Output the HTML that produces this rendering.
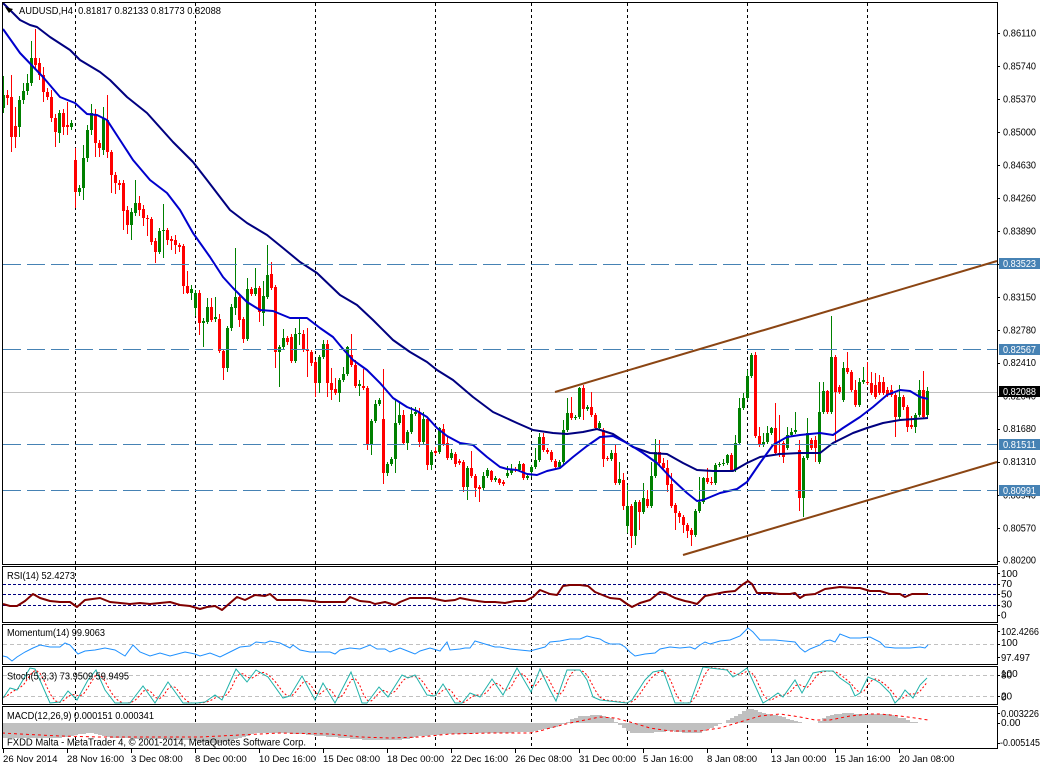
<!DOCTYPE html>
<html><head><meta charset="utf-8">
<style>
html,body{margin:0;padding:0;background:#fff;}
svg{display:block;font-family:"Liberation Sans",sans-serif;}
text{font-size:10px;fill:#000;}
</style></head><body>
<svg id="s" width="1040" height="767" viewBox="0 0 1040 767" xmlns="http://www.w3.org/2000/svg">
<rect width="1040" height="767" fill="#fff"/>
<!-- vertical grid -->
<path d="M75.5 3V564M195.5 3V564M315.5 3V564M435.5 3V564M531.5 3V564M627.5 3V564M747.5 3V564M867.5 3V564
M75.5 567V622M195.5 567V622M315.5 567V622M435.5 567V622M531.5 567V622M627.5 567V622M747.5 567V622M867.5 567V622
M75.5 625V664M195.5 625V664M315.5 625V664M435.5 625V664M531.5 625V664M627.5 625V664M747.5 625V664M867.5 625V664
M75.5 667V704M195.5 667V704M315.5 667V704M435.5 667V704M531.5 667V704M627.5 667V704M747.5 667V704M867.5 667V704
M75.5 707V748M195.5 707V748M315.5 707V748M435.5 707V748M531.5 707V748M627.5 707V748M747.5 707V748M867.5 707V748" stroke="#000" stroke-width="1" stroke-dasharray="3 3" fill="none"/>
<!-- current price line -->
<line x1="3" y1="392.5" x2="997" y2="392.5" stroke="#C0C0C0" stroke-width="1"/>
<g id="candles"></g>
<g id="mas"></g>
<!-- horizontal lines -->
<path d="M3 264.5H997M3 349.5H997M3 444.5H997M3 490.5H997" stroke="#4682B4" stroke-width="1" stroke-dasharray="18 6" fill="none"/>
<!-- trend lines -->
<line x1="555" y1="392" x2="997" y2="261" stroke="#8B4513" stroke-width="2"/>
<line x1="683" y1="555" x2="997" y2="462" stroke="#8B4513" stroke-width="2"/>
<!-- indicator levels -->
<path d="M3 584.5H997M3 594.5H997M3 605.5H997" stroke="#000080" stroke-width="1" stroke-dasharray="3 2" fill="none"/>
<path d="M3 644.5H997M3 675.5H997M3 696.5H997" stroke="#C0C0C0" stroke-width="1" stroke-dasharray="4 3" fill="none"/>
<g id="ind"></g>
<!-- title & labels -->
<path d="M5 7L13 9L9 13Z" fill="#000"/>
<text x="19" y="14" textLength="202" lengthAdjust="spacingAndGlyphs">AUDUSD,H4&#160; 0.81817 0.82133 0.81773 0.82088</text>
<text x="7" y="579" textLength="68" lengthAdjust="spacingAndGlyphs">RSI(14) 52.4273</text>
<text x="7" y="636" textLength="98" lengthAdjust="spacingAndGlyphs">Momentum(14) 99.9063</text>
<text x="7" y="679.5" textLength="122" lengthAdjust="spacingAndGlyphs">Stoch(5,3,3) 73.9509 59.9495</text>
<text x="7" y="719" textLength="147" lengthAdjust="spacingAndGlyphs">MACD(12,26,9) 0.000151 0.000341</text>
<text x="7" y="745.5" textLength="299" lengthAdjust="spacingAndGlyphs">FXDD Malta - MetaTrader 4, © 2001-2014, MetaQuotes Software Corp.</text>
<!-- frames -->
<g fill="none" stroke="#000" stroke-width="1">
<rect x="2.5" y="2.5" width="995" height="562"/>
<rect x="2.5" y="566.5" width="995" height="56"/>
<rect x="2.5" y="624.5" width="995" height="40"/>
<rect x="2.5" y="666.5" width="995" height="38"/>
<rect x="2.5" y="706.5" width="995" height="42"/>
</g>
<!-- price axis ticks -->
<path d="M997 33.5h3M997 66.5h3M997 99.5h3M997 132.5h3M997 165.5h3M997 198.5h3M997 231.5h3M997 264.5h3M997 297.5h3M997 330.5h3M997 363.5h3M997 396.5h3M997 429.5h3M997 462.5h3M997 495.5h3M997 528.5h3M997 561.5h3
M997 573.5h3M997 584.5h3M997 594.5h3M997 605.5h3M997 615.5h3M997 631.5h3M997 644.5h3M997 657.5h3M997 675.5h3M997 696.5h3M997 713.5h3M997 723.5h3M997 743.5h3" stroke="#000" stroke-width="1"/>
<g>
<text x="1003" y="36.5" textLength="33" lengthAdjust="spacingAndGlyphs">0.86110</text>
<text x="1003" y="69.5" textLength="33" lengthAdjust="spacingAndGlyphs">0.85740</text>
<text x="1003" y="102.5" textLength="33" lengthAdjust="spacingAndGlyphs">0.85370</text>
<text x="1003" y="135.5" textLength="33" lengthAdjust="spacingAndGlyphs">0.85000</text>
<text x="1003" y="168.5" textLength="33" lengthAdjust="spacingAndGlyphs">0.84630</text>
<text x="1003" y="201.5" textLength="33" lengthAdjust="spacingAndGlyphs">0.84260</text>
<text x="1003" y="234.5" textLength="33" lengthAdjust="spacingAndGlyphs">0.83890</text>
<text x="1003" y="267.5" textLength="33" lengthAdjust="spacingAndGlyphs">0.83520</text>
<text x="1003" y="300.5" textLength="33" lengthAdjust="spacingAndGlyphs">0.83150</text>
<text x="1003" y="333.5" textLength="33" lengthAdjust="spacingAndGlyphs">0.82780</text>
<text x="1003" y="366" textLength="33" lengthAdjust="spacingAndGlyphs">0.82410</text>
<text x="1003" y="399.5" textLength="33" lengthAdjust="spacingAndGlyphs">0.82040</text>
<text x="1003" y="432" textLength="33" lengthAdjust="spacingAndGlyphs">0.81680</text>
<text x="1003" y="465" textLength="33" lengthAdjust="spacingAndGlyphs">0.81310</text>
<text x="1003" y="498.5" textLength="33" lengthAdjust="spacingAndGlyphs">0.80940</text>
<text x="1003" y="531.5" textLength="33" lengthAdjust="spacingAndGlyphs">0.80570</text>
<text x="1003" y="563.5" textLength="33" lengthAdjust="spacingAndGlyphs">0.80200</text>
</g>
<!-- highlighted price boxes -->
<rect x="999" y="258" width="41" height="11" fill="#4682B4"/>
<text x="1003" y="267" textLength="33" lengthAdjust="spacingAndGlyphs" style="fill:#fff">0.83523</text>
<rect x="999" y="344" width="41" height="11" fill="#4682B4"/>
<text x="1003" y="353" textLength="33" lengthAdjust="spacingAndGlyphs" style="fill:#fff">0.82567</text>
<rect x="999" y="386" width="41" height="11" fill="#000"/>
<text x="1003" y="395" textLength="33" lengthAdjust="spacingAndGlyphs" style="fill:#fff">0.82088</text>
<rect x="999" y="439" width="41" height="11" fill="#4682B4"/>
<text x="1003" y="448" textLength="33" lengthAdjust="spacingAndGlyphs" style="fill:#fff">0.81511</text>
<rect x="999" y="485" width="41" height="11" fill="#4682B4"/>
<text x="1003" y="494" textLength="33" lengthAdjust="spacingAndGlyphs" style="fill:#fff">0.80991</text>
<!-- indicator axis labels -->
<g>
<text x="1001" y="577">100</text>
<text x="1001" y="587">70</text>
<text x="1001" y="597.5">50</text>
<text x="1001" y="607.5">30</text>
<text x="1001" y="618.5">0</text>
<text x="1001" y="635" textLength="38" lengthAdjust="spacingAndGlyphs">102.4266</text>
<text x="1001" y="646">100</text>
<text x="1001" y="661" textLength="29" lengthAdjust="spacingAndGlyphs">97.497</text>
<text x="1001" y="677">100</text>
<text x="1001" y="678.5">80</text>
<text x="1001" y="699.5">20</text>
<text x="1001" y="700.5">0</text>
<text x="1001" y="717" textLength="38" lengthAdjust="spacingAndGlyphs">0.003226</text>
<text x="1001" y="726">0.00</text>
<text x="1000" y="746" textLength="40" lengthAdjust="spacingAndGlyphs">-0.005145</text>
</g>
<!-- time axis -->
<path d="M3.5 749V753M67.5 749V753M131.5 749V753M195.5 749V753M259.5 749V753M323.5 749V753M387.5 749V753M451.5 749V753M515.5 749V753M579.5 749V753M643.5 749V753M707.5 749V753M771.5 749V753M835.5 749V753M899.5 749V753" stroke="#000" stroke-width="1"/>
<g style="font-size:9.6px">
<text x="3" y="762" style="font-size:9.6px">26 Nov 2014</text>
<text x="67" y="762" style="font-size:9.6px">28 Nov 16:00</text>
<text x="131" y="762" style="font-size:9.6px">3 Dec 08:00</text>
<text x="195" y="762" style="font-size:9.6px">8 Dec 00:00</text>
<text x="259" y="762" style="font-size:9.6px">10 Dec 16:00</text>
<text x="323" y="762" style="font-size:9.6px">15 Dec 08:00</text>
<text x="387" y="762" style="font-size:9.6px">18 Dec 00:00</text>
<text x="451" y="762" style="font-size:9.6px">22 Dec 16:00</text>
<text x="515" y="762" style="font-size:9.6px">26 Dec 08:00</text>
<text x="579" y="762" style="font-size:9.6px">31 Dec 00:00</text>
<text x="643" y="762" style="font-size:9.6px">5 Jan 16:00</text>
<text x="707" y="762" style="font-size:9.6px">8 Jan 08:00</text>
<text x="771" y="762" style="font-size:9.6px">13 Jan 00:00</text>
<text x="835" y="762" style="font-size:9.6px">15 Jan 16:00</text>
<text x="899" y="762" style="font-size:9.6px">20 Jan 08:00</text>
</g>
</svg>
<script>
(function(){
var NS="http://www.w3.org/2000/svg";
function el(t,a,p){var e=document.createElementNS(NS,t);for(var k in a)e.setAttribute(k,a[k]);p.appendChild(e);return e;}
function pts(a){return a.map(function(p){return p[0]+','+p[1];}).join(' ');}
function itp(a,x){if(x<=a[0][0])return a[0][1];for(var i=1;i<a.length;i++){if(x<=a[i][0]){var t=(x-a[i-1][0])/(a[i][0]-a[i-1][0]);return a[i-1][1]+t*(a[i][1]-a[i-1][1]);}}return a[a.length-1][1];}
var D=[[108,95,76,113],[95,98,90,105],[97,137,75,152],[126,137,107,148],[127,100,96,137],[100,91,83,104],[91,83,74,95],[83,58,41,86],[58,65,29,70],[63,75,58,80],
[75,92,67,102],[92,97,88,100],[97,118,90,122],[118,132,114,147],[133,113,110,143],[113,127,109,135],[125,127,102,135],[127,123,120,130],[160,192,148,208],[192,188,185,196],
[188,158,145,200],[158,130,125,162],[130,113,104,135],[115,143,109,157],[143,148,140,157],[150,118,107,155],[120,152,95,158],[152,175,150,193],[175,183,172,194],[183,185,180,190],
[183,211,180,230],[210,225,206,234],[225,212,208,240],[213,203,180,216],[203,210,196,216],[209,218,205,226],[218,219,215,236],[219,242,217,245],[241,252,238,263],[252,231,228,254],
[231,230,204,258],[230,240,228,245],[239,241,236,250],[240,245,235,254],[245,247,243,252],[246,286,244,294],[286,293,271,294],[293,289,285,300],[308,293,290,316],[293,323,290,335],
[323,321,318,347],[322,307,298,324],[307,320,298,322],[319,317,297,322],[319,351,314,353],[351,368,349,380],[368,328,326,372],[328,307,304,331],[308,297,248,315],[297,320,295,327],
[319,339,317,343],[339,289,278,341],[289,294,287,296],[294,288,268,296],[288,312,286,322],[313,296,281,326],[297,275,245,299],[274,288,262,290],[287,352,285,368],[352,347,345,387],
[347,338,329,349],[338,342,336,345],[337,361,334,363],[361,334,328,363],[334,333,318,345],[334,350,330,352],[349,351,328,377],[352,363,350,366],[362,383,360,397],[383,357,355,393],
[357,344,340,359],[344,383,340,397],[383,390,368,400],[389,393,378,395],[393,380,378,402],[380,374,367,382],[374,347,346,376],[355,365,334,367],[365,386,360,388],[386,384,380,396],
[386,388,369,390],[388,444,386,450],[444,421,419,455],[421,404,400,423],[404,400,398,406],[419,473,369,484],[473,464,462,476],[464,459,457,466],[459,423,400,473],[423,415,403,425],
[415,443,410,445],[443,432,430,450],[432,414,407,434],[414,412,407,416],[413,442,408,447],[442,419,412,444],[419,465,417,470],[465,452,450,470],[451,453,447,455],[452,428,427,454],
[429,444,424,446],[443,458,437,460],[458,453,449,460],[454,464,452,467],[461,463,459,465],[462,487,460,492],[487,468,466,500],[468,476,451,478],[476,488,474,497],[487,489,485,502],
[488,476,472,490],[476,470,468,478],[471,480,470,482],[480,478,476,482],[479,483,478,485],[482,484,480,486],[476,473,466,478],[473,469,464,475],[469,470,467,472],[470,464,461,472],
[464,478,463,480],[478,476,474,480],[472,467,465,477],[467,460,448,469],[460,437,433,462],[437,450,433,452],[450,452,448,454],[452,460,450,462],[461,467,459,469],[467,462,460,469],
[462,430,420,464],[430,413,398,432],[413,418,397,420],[418,417,415,420],[417,388,387,419],[388,409,385,420],[409,407,405,411],[407,415,392,417],[415,428,413,430],[428,423,421,430],
[430,459,428,467],[458,459,456,461],[459,453,450,461],[453,483,444,485],[483,479,462,485],[480,506,473,510],[526,506,485,533],[506,536,504,548],[536,502,500,545],[502,512,500,530],
[512,498,483,514],[499,506,490,508],[506,476,462,508],[476,452,439,478],[452,463,440,465],[463,468,458,470],[468,485,460,492],[484,506,473,508],[505,513,503,530],[513,517,511,523],
[517,525,515,533],[525,531,523,538],[530,535,528,546],[535,511,509,537],[511,502,477,513],[502,478,477,504],[478,482,468,484],[482,483,477,485],[483,465,463,485],[465,464,462,467],
[464,463,459,466],[463,455,454,465],[455,470,453,472],[470,443,435,472],[443,408,398,445],[408,398,393,410],[398,376,370,400],[376,355,353,378],[355,436,352,438],[436,445,427,447],
[445,442,433,447],[442,433,426,444],[433,428,427,435],[428,453,403,455],[453,455,415,457],[443,457,441,463],[448,435,427,450],[435,432,428,437],[432,430,412,434],[450,498,440,511],
[498,458,456,517],[458,433,418,460],[440,448,438,450],[440,448,436,462],[462,412,382,464],[412,391,382,414],[391,412,390,414],[412,357,316,414],[357,392,355,443],[387,392,385,394],
[400,368,362,402],[368,372,352,374],[372,390,370,392],[390,405,380,407],[405,382,378,407],[382,380,367,384],[382,383,362,385],[383,393,372,395],[385,397,373,399],[382,393,375,395],
[382,393,377,395],[390,395,387,397],[390,395,385,397],[395,417,393,437],[417,397,385,419],[397,407,395,410],[407,427,405,432],[425,427,416,429],[427,415,413,433],[415,390,380,417],
[390,417,371,419],[415,391,387,419]];
var C=document.getElementById('candles');
var gw='',gb='',rw='',rb='';
D.forEach(function(d,i){var x=3.5+4*i,o=d[0],c=d[1],h=d[2],l=d[3];var t=Math.min(o,c),b=Math.max(o,c);h=Math.min(h,t);l=Math.max(l,b);if(b===t)b=t+1;
var w='M'+x+' '+h+'V'+l;var bd='M'+(x-1.5)+' '+t+'h3V'+b+'h-3Z';if(c<o){gw+=w;gb+=bd;}else{rw+=w;rb+=bd;}});
el('path',{d:gw,stroke:'#008000','stroke-width':1,fill:'none'},C);
el('path',{d:rw,stroke:'#FF0000','stroke-width':1,fill:'none'},C);
el('path',{d:gb,fill:'#008000'},C);
el('path',{d:rb,fill:'#FF0000'},C);
var M=document.getElementById('mas');
var FAST=[[3,29],[20,53],[43,77],[60,97],[70,101],[75,103],[87,114],[97,115],[107,120],[120,140],[133,160],[150,180],[167,193],[180,210],[193,233],[210,257],[223,277],[233,288],[247,302],[260,310],[273,311],[290,318],[307,318],[320,328],[333,337],[343,349],[353,360],[367,370],[380,383],[393,398],[407,407],[417,411],[427,417],[437,428],[447,436],[460,443],[473,445],[487,457],[500,467],[507,469],[517,470],[527,474],[537,475],[547,471],[560,468],[573,457],[587,446],[600,437],[613,436],[627,443],[643,453],[657,463],[673,480],[687,493],[697,501],[703,500],[720,493],[737,489],[747,482],[760,463],[773,445],[787,437],[800,435],[820,433],[833,435],[843,428],[860,417],[873,407],[887,395],[900,390],[910,391],[920,397],[928,399]];
var SLOW=[[3,3],[20,20],[30,25],[37,27],[50,37],[70,50],[80,60],[100,72],[110,80],[127,97],[147,113],[173,142],[193,162],[207,180],[220,197],[230,210],[247,223],[267,235],[283,248],[300,262],[317,273],[340,295],[357,305],[373,320],[393,340],[410,352],[427,362],[437,370],[453,380],[473,397],[493,412],[517,423],[533,430],[553,433],[567,434],[583,432],[597,429],[613,434],[633,447],[650,453],[667,454],[683,463],[697,470],[713,471],[733,471],[747,463],[760,457],[780,454],[800,453],[820,453],[833,443],[853,433],[867,428],[883,423],[900,420],[928,418]];
el('polyline',{points:pts(SLOW),fill:'none',stroke:'#000080','stroke-width':2,'stroke-linejoin':'round'},M);
el('polyline',{points:pts(FAST),fill:'none',stroke:'#0000CD','stroke-width':2,'stroke-linejoin':'round'},M);
var I=document.getElementById('ind');
// MACD histogram
var MH=[[2,738],[60,738],[75,735],[90,733],[110,738],[190,740],[215,744],[240,738],[255,733],[280,733],[300,734],[330,737],[370,740],[400,740],[420,736],[450,734],[500,733],[530,732],[550,728],[565,724],[570,720],[580,716],[600,715],[612,718],[617,723],[630,733],[650,733],[670,731],[683,733],[700,733],[717,725],[723,723],[737,715],[747,709],[753,709],[760,712],[783,717],[797,722],[803,723],[817,723],[827,716],[843,713],[867,714],[890,714],[900,718],[905,718],[910,722],[928,723]];
var hp='';for(var i=0;i<232;i++){var v=Math.round(itp(MH,3.5+4*i));var y0=Math.min(v,723),y1=Math.max(v,723);if(y1>y0)hp+='M'+(2+4*i)+' '+y0+'h4V'+y1+'h-4Z';}
el('path',{d:hp,fill:'#C0C0C0'},I);
var MS=[[2,733],[20,734],[60,736],[100,737],[150,737],[200,737],[240,735],[280,733],[330,734],[360,737],[390,738],[420,737],[450,734],[490,733],[530,733],[540,731],[550,728],[570,723],[590,719],[600,717],[615,718],[630,722],[650,728],[670,731],[700,731],[720,728],[740,722],[760,716],[780,714],[800,717],[815,720],[830,720],[850,716],[870,714],[880,714],[900,716],[915,718],[928,720]];
el('polyline',{points:pts(MS),fill:'none',stroke:'#FF0000','stroke-width':1,'stroke-dasharray':'3 3'},I);
// RSI
var RSI=[[3,604],[10,606],[17,606],[25,601],[33,594],[40,598],[50,601],[60,602],[70,602],[77,607],[85,600],[100,598],[110,602],[130,604],[140,603],[150,604],[160,603],[170,602],[180,605],[190,606],[200,609],[207,607],[215,606],[222,610],[230,603],[237,597],[245,600],[255,595],[265,596],[270,594],[277,600],[290,600],[300,600],[313,601],[320,602],[330,602],[345,602],[350,597],[360,601],[370,602],[375,604],[385,602],[395,605],[400,602],[410,598],[420,598],[430,598],[440,600],[445,601],[455,600],[460,598],[470,600],[485,602],[495,602],[505,603],[515,601],[525,601],[533,597],[540,590],[550,594],[557,595],[563,586],[570,585],[580,585],[588,586],[595,592],[600,594],[610,598],[620,599],[627,604],[632,607],[640,603],[650,600],[655,596],[660,592],[665,593],[675,598],[685,601],[690,602],[697,604],[705,596],[715,594],[725,592],[735,591],[742,585],[748,581],[752,584],[757,593],[770,593],[780,594],[790,594],[795,593],[800,598],[805,595],[815,594],[825,589],[840,587],[855,588],[860,588],[870,591],[880,591],[890,594],[900,594],[905,597],[912,594],[920,594],[928,594]];
el('polyline',{points:pts(RSI),fill:'none',stroke:'#800000','stroke-width':2,'stroke-linejoin':'round'},I);
// Momentum
var MO=[[3,656],[7,657],[12,661],[17,657],[25,652],[33,648],[40,645],[50,647],[60,647],[65,643],[70,645],[78,654],[85,651],[95,650],[105,648],[115,650],[125,656],[133,645],[140,652],[150,656],[160,653],[170,656],[185,652],[195,654],[200,656],[210,653],[220,657],[230,652],[240,647],[250,646],[256,642],[265,643],[270,641],[280,643],[290,648],[293,645],[300,650],[310,652],[320,652],[330,652],[335,654],[340,650],[350,648],[360,649],[370,645],[377,649],[385,649],[390,652],[400,648],[410,652],[415,654],[420,651],[430,648],[440,651],[447,642],[450,650],[460,649],[465,648],[470,648],[475,641],[485,644],[495,647],[500,647],[510,649],[520,650],[530,651],[545,647],[550,642],[560,641],[570,639],[580,639],[587,636],[595,638],[600,639],[605,642],[610,644],[620,644],[625,647],[630,652],[635,656],[645,654],[655,653],[660,649],[670,647],[680,648],[690,647],[695,649],[700,645],[705,642],[710,644],[720,641],[730,640],[740,636],[745,631],[748,628],[753,632],[760,640],[775,640],[785,641],[795,642],[800,648],[805,652],[810,649],[820,645],[825,641],[830,640],[835,642],[840,634],[850,638],[860,638],[870,637],[880,642],[885,647],[895,648],[910,648],[920,647],[925,648],[928,645]];
el('polyline',{points:pts(MO),fill:'none',stroke:'#1E90FF','stroke-width':1},I);
// Stochastic
var ST=[[3,698],[10,688],[17,690],[30,668],[35,669],[50,703],[60,702],[68,691],[77,700],[88,680],[96,670],[105,690],[115,703],[130,703],[143,686],[155,703],[168,682],[183,703],[197,703],[205,702],[215,695],[222,700],[236,669],[247,682],[256,670],[268,677],[283,698],[290,696],[302,676],[315,700],[323,683],[335,703],[351,672],[362,703],[367,703],[379,687],[388,697],[402,675],[408,678],[415,675],[427,695],[435,696],[443,684],[455,703],[462,703],[470,693],[480,697],[492,679],[503,695],[517,668],[531,692],[540,669],[550,690],[556,701],[567,670],[580,670],[587,680],[593,697],[600,700],[627,703],[632,700],[645,680],[653,672],[663,670],[675,703],[690,703],[703,667],[710,668],[727,670],[733,677],[740,673],[747,668],[763,703],[768,700],[778,693],[783,697],[795,680],[802,693],[813,673],[823,671],[833,671],[840,678],[850,685],[855,696],[860,693],[868,677],[875,680],[880,683],[890,693],[895,703],[900,698],[905,690],[913,698],[920,685],[927,678]];
var m=[],sg=[];for(i=0;i<232;i++)m.push(itp(ST,3.5+4*i));
for(i=0;i<232;i++){var a=m[Math.max(0,i-2)],b=m[Math.max(0,i-1)];sg.push([3.5+4*i,((a+b+m[i])/3).toFixed(1)]);}
el('polyline',{points:pts(sg),fill:'none',stroke:'#FF0000','stroke-width':1,'stroke-dasharray':'2 2'},I);
el('polyline',{points:pts(ST),fill:'none',stroke:'#20B2AA','stroke-width':1},I);
})();
</script>
</body></html>
